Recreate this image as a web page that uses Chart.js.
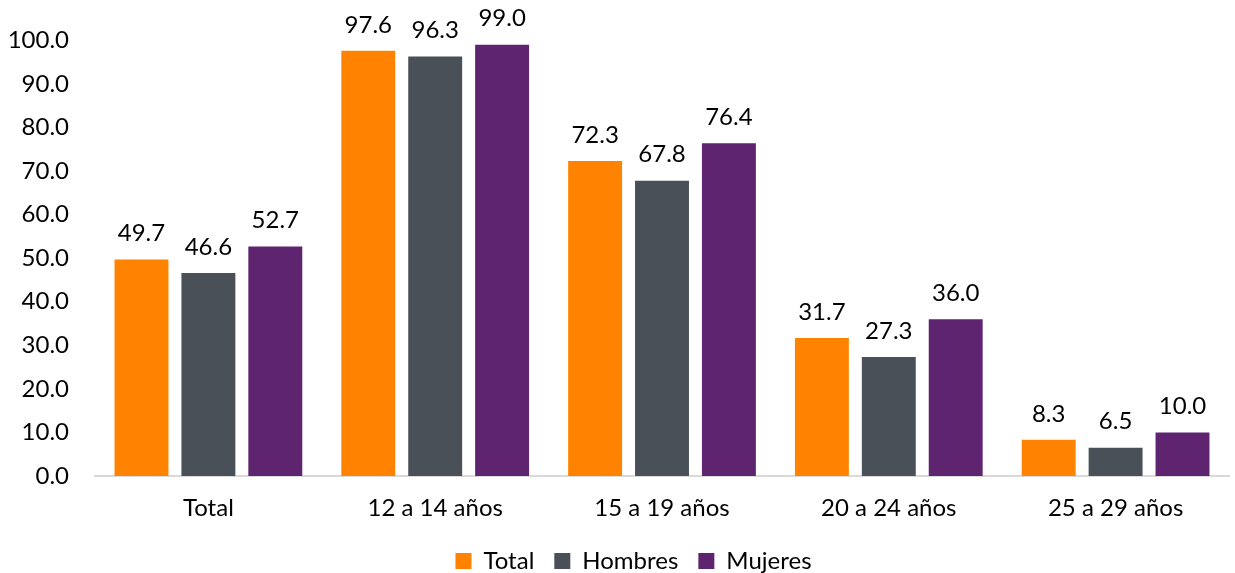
<!DOCTYPE html>
<html>
<head>
<meta charset="utf-8">
<script src="https://cdn.jsdelivr.net/npm/chart.js@4"></script>
<style>
html,body{margin:0;padding:0;background:#fff;}
#wrap{width:1235px;height:573px;}
</style>
</head>
<body>
<div id="wrap"><canvas id="c" width="1235" height="573"></canvas></div>
<script>
const categories = ["Total", "12 a 14 años", "15 a 19 años", "20 a 24 años", "25 a 29 años"];
const totalValues = [49.7, 97.6, 72.3, 31.7, 8.3];
const hombresValues = [46.6, 96.3, 67.8, 27.3, 6.5];
const mujeresValues = [52.7, 99.0, 76.4, 36.0, 10.0];
const yTicks = [0, 10, 20, 30, 40, 50, 60, 70, 80, 90, 100];

const FONT = "Lato, 'Open Sans', sans-serif";

const labelPlugin = {
  id: 'valueLabels',
  afterDatasetsDraw(chart) {
    const ctx = chart.ctx;
    ctx.save();
    ctx.font = "24px " + FONT;
    ctx.fillStyle = "#000";
    ctx.textAlign = "center";
    ctx.textBaseline = "middle";
    chart.data.datasets.forEach((ds, i) => {
      const meta = chart.getDatasetMeta(i);
      meta.data.forEach((bar, j) => {
        ctx.fillText(ds.data[j].toFixed(1), bar.x, bar.y - 26);
      });
    });
    ctx.restore();
  }
};

const legendNudge = {
  id: 'legendNudge',
  afterLayout(chart) {
    const lg = chart.legend;
    if (lg) {
      lg.left += 19; lg.right += 19;
      lg.top += 2; lg.bottom += 2;
    }
  }
};

new Chart(document.getElementById('c'), {
  type: 'bar',
  data: {
    labels: categories,
    datasets: [
      {label: 'Total', data: totalValues, backgroundColor: '#FF8300'},
      {label: 'Hombres', data: hombresValues, backgroundColor: '#495057'},
      {label: 'Mujeres', data: mujeresValues, backgroundColor: '#5E2470'}
    ]
  },
  options: {
    responsive: false,
    animation: false,
    devicePixelRatio: 1,
    categoryPercentage: 0.885,
    barPercentage: 0.806,
    layout: {padding: {top: 38, right: 6, left: 0, bottom: 0}},
    plugins: {
      legend: {
        position: 'bottom',
        maxHeight: 46,
        labels: {
          font: {family: FONT, size: 24},
          color: '#000',
          boxWidth: 16,
          boxHeight: 16,
          padding: 20
        }
      },
      tooltip: {enabled: false}
    },
    scales: {
      x: {
        grid: {display: false, drawTicks: false},
        border: {display: true, color: '#D9D9D9', width: 2},
        ticks: {font: {family: FONT, size: 24}, color: '#000', padding: 18},
        afterFit(s) { s.height = 51; }
      },
      y: {
        min: 0, max: 100,
        afterBuildTicks(s) { s.ticks = yTicks.map(v => ({value: v})); },
        grid: {display: false, drawTicks: false},
        border: {display: false},
        ticks: {
          font: {family: FONT, size: 24}, color: '#000', padding: 26,
          callback: v => v.toFixed(1)
        },
        afterFit(s) { s.width = 95; }
      }
    }
  },
  plugins: [labelPlugin, legendNudge]
});
</script>
</body>
</html>
